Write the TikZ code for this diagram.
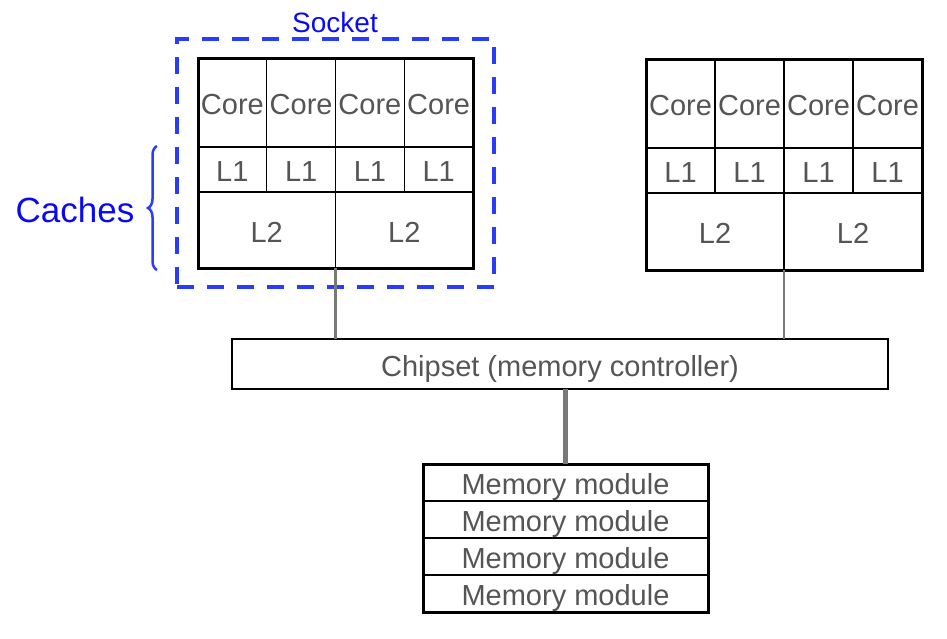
\documentclass[tikz,border=0pt]{standalone}
\usepackage{fontspec}
\setmainfont{Liberation Sans}
\usetikzlibrary{decorations.pathreplacing}
\definecolor{txt}{RGB}{85,85,85}
\definecolor{sockblue}{RGB}{40,60,250}
\definecolor{lblblue}{RGB}{10,10,240}
\definecolor{wire}{RGB}{120,120,120}
\begin{document}
\begin{tikzpicture}[x=1pt,y=-1pt,
  every node/.style={inner sep=0pt,outer sep=0pt},
  cell/.style={draw=black,line width=1.4pt,text=txt,font=\fontsize{29}{32}\selectfont,text height=24.8pt,text depth=0pt},
  outerbox/.style={draw=black,line width=3pt},
  wireline/.style={draw=wire,line width=2.2pt},
  busline/.style={draw=wire,line width=5pt},
  lbl/.style={text=lblblue}
]
\useasboundingbox (0,0) rectangle (947,638);

% Socket 1
\foreach \i in {0,...,3}{
  \node[cell,minimum width=68.75pt,minimum height=89pt] (sa\i) at ({198+68.75*(\i+0.5)},102.5) {Core};
  \node[cell,minimum width=68.75pt,minimum height=45pt] (sal\i) at ({198+68.75*(\i+0.5)},169.5) {L1};
}
\foreach \i in {0,1}{
  \node[cell,minimum width=137.5pt,minimum height=76pt] (sam\i) at ({198+137.5*(\i+0.5)},230) {L2};
}
\node[outerbox,minimum width=275pt,minimum height=210pt] (s1) at (335.5,163) {};
\node[draw=sockblue,line width=4pt,dash pattern=on 17pt off 13pt,minimum width=317pt,minimum height=248pt] (dash1) at (335.5,163) {};
\node[lbl,font=\fontsize{28}{30}\selectfont,text height=20pt,text depth=0pt] (socklbl) at (335,22) {Socket};

% Socket 2
\foreach \i in {0,...,3}{
  \node[cell,minimum width=69pt,minimum height=89pt] (sb\i) at ({646+69*(\i+0.5)},103.5) {Core};
  \node[cell,minimum width=69pt,minimum height=45pt] (sbl\i) at ({646+69*(\i+0.5)},170.5) {L1};
}
\foreach \i in {0,1}{
  \node[cell,minimum width=138pt,minimum height=77pt] (sbm\i) at ({646+138*(\i+0.5)},231.5) {L2};
}
\node[outerbox,minimum width=276pt,minimum height=211pt] (s2) at (784,164.5) {};

% Caches brace
\coordinate (bb) at (157,270);
\coordinate (bt) at (157,146);
\draw[decorate,decoration={brace,amplitude=9pt},line width=2.5pt,draw=sockblue] (bb) -- (bt);
\node[lbl,font=\fontsize{35}{38}\selectfont,text height=25pt,text depth=0pt] (caches) at (75,210) {Caches};

% Chipset
\node[draw=black,line width=2.8pt,minimum width=656pt,minimum height=50pt,text=txt,font=\fontsize{29}{32}\selectfont,text height=24.8pt,text depth=0pt] (chip) at (560,364) {Chipset (memory controller)};

% Memory modules
\foreach \i in {0,...,3}{
  \node[cell,minimum width=285pt,minimum height=37pt] (mm\i) at (565.5,{464+37*(\i+0.5)}) {Memory module};
}
\node[outerbox,minimum width=285pt,minimum height=148pt] (mem) at (565.5,538) {};

% Connectors
\draw[wireline] (s1.south) -- (s1.south |- chip.north);
\draw[wireline] (s2.south) -- (s2.south |- chip.north);
\draw[busline] (chip.south -| mem.north) -- (mem.north);
\end{tikzpicture}
\end{document}
